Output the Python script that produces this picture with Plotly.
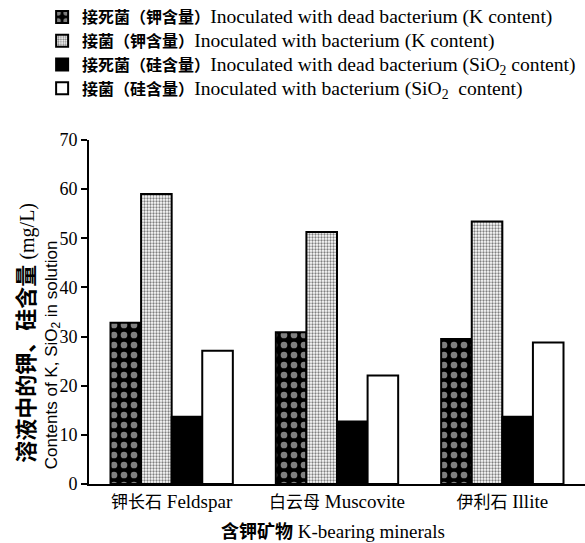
import plotly.graph_objects as go

categories = ["钾长石 Feldspar", "白云母 Muscovite", "伊利石 Illite"]
k_dead = [32.8, 30.9, 29.5]
k_bact = [59.0, 51.3, 53.4]
si_dead = [13.7, 12.7, 13.7]
si_bact = [27.1, 22.1, 28.8]
series_cn = ["接死菌（钾含量）", "接菌（钾含量）", "接死菌（硅含量）", "接菌（硅含量）"]
series_en = [
    "Inoculated with dead bacterium (K content)",
    "Inoculated with bacterium (K content)",
    "Inoculated with dead bacterium (SiO<sub>2</sub> content)",
    "Inoculated with bacterium (SiO<sub>2</sub>  content)",
]
y_ticks = [0, 10, 20, 30, 40, 50, 60, 70]

SERIF = "Liberation Serif, Noto Sans CJK SC, serif"
SANS = "Liberation Sans, Noto Sans CJK SC, sans-serif"


def cn_en(cn, en, cn_size, en_size, bold=True):
    c = f"<b>{cn}</b>" if bold else cn
    return f"<span style='font-size:{cn_size}px'>{c}</span><span style='font-size:{en_size}px'>{en}</span>"


names = [cn_en(c, e, 16, 19.6) for c, e in zip(series_cn, series_en)]
tick_text = [cn_en(c.split(" ")[0], " " + c.split(" ")[1], 17, 19, bold=False) for c in categories]

fig = go.Figure()
line = dict(color="black", width=2)
fig.add_trace(go.Bar(x=categories, y=k_dead, name=names[0],
                     marker=dict(color="black", line=line,
                                 pattern=dict(shape=".", fgcolor="white", bgcolor="black",
                                              size=10, solidity=0.35))))
fig.add_trace(go.Bar(x=categories, y=k_bact, name=names[1],
                     marker=dict(color="white", line=line,
                                 pattern=dict(shape=".", fgcolor="black", bgcolor="white",
                                              size=3, solidity=0.45))))
fig.add_trace(go.Bar(x=categories, y=si_dead, name=names[2],
                     marker=dict(color="black", line=line)))
fig.add_trace(go.Bar(x=categories, y=si_bact, name=names[3],
                     marker=dict(color="white", line=line)))

fig.update_layout(
    width=585, height=543,
    margin=dict(l=89, r=0, t=140, b=59, autoexpand=False),
    barmode="group", bargap=0.26, bargroupgap=0,
    plot_bgcolor="white", paper_bgcolor="white",
    font=dict(family=SERIF, size=16, color="black"),
    showlegend=True,
    legend=dict(xref="container", yref="container", x=0.072, y=1.0,
                xanchor="left", yanchor="top", traceorder="normal",
                font=dict(family=SERIF, size=16, color="black"),
                bgcolor="rgba(0,0,0,0)", itemwidth=30),
    xaxis=dict(range=[-0.5, 2.5], showline=True, linecolor="black", linewidth=2,
               ticks="", showgrid=False, zeroline=False, automargin=False,
               tickmode="array", tickvals=categories, ticktext=tick_text,
               tickfont=dict(family=SERIF, size=18)),
    yaxis=dict(range=[0, 70], tickvals=y_ticks, showline=True, linecolor="black",
               linewidth=2, ticks="outside", ticklen=6, tickwidth=2, tickcolor="black",
               showgrid=False, zeroline=False, automargin=False,
               tickfont=dict(family=SERIF, size=18)),
    annotations=[
        dict(text="<b>溶液中的钾、硅含量</b><span style='font-family:Liberation Serif;font-size:20px'> (mg/L)</span>",
             xref="paper", yref="paper", x=-0.125, y=0.44, textangle=-90,
             xanchor="center", yanchor="middle", showarrow=False,
             font=dict(family=SERIF, size=22)),
        dict(text="Contents of K, SiO<sub>2</sub> in solution",
             xref="paper", yref="paper", x=-0.0726, y=0.377, textangle=-90,
             xanchor="center", yanchor="middle", showarrow=False,
             font=dict(family=SANS, size=17)),
        dict(text="<span style='font-size:18px'><b>含钾矿物</b></span> K-bearing minerals",
             xref="paper", yref="paper", x=0.492, y=-0.1395,
             xanchor="center", yanchor="middle", showarrow=False,
             font=dict(family=SERIF, size=19)),
    ],
)

fig.write_html("out.html", config={"displayModeBar": False},
               post_script="document.body.style.margin='0px';")
